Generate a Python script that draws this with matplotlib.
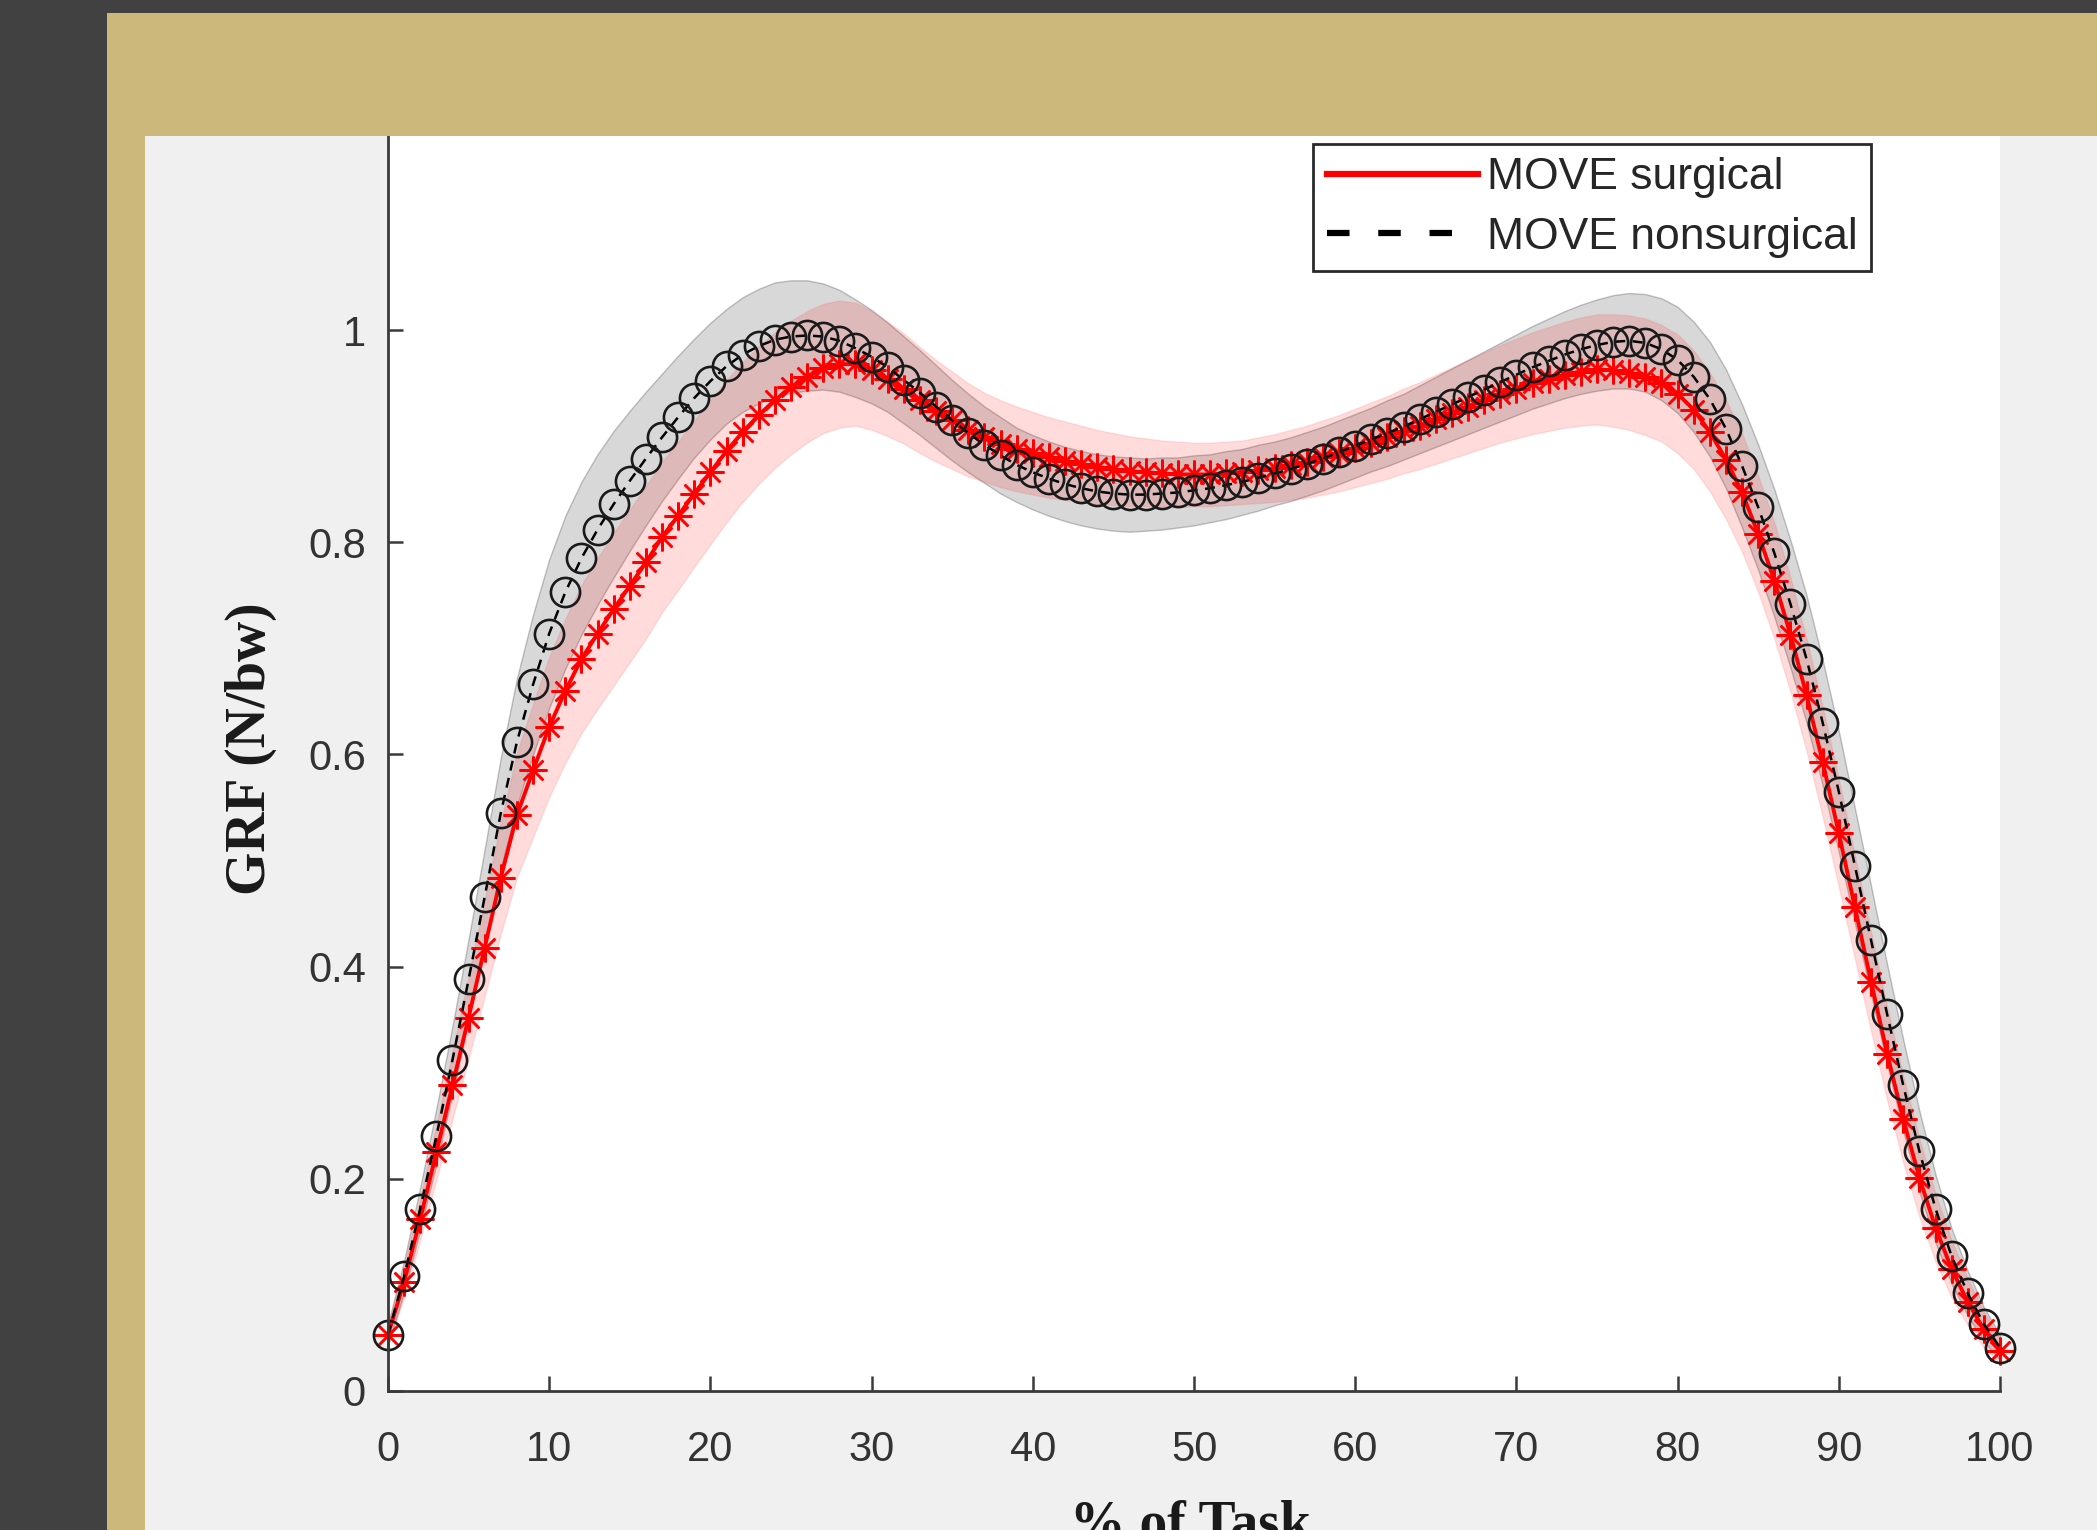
import matplotlib
matplotlib.use("Agg")
import matplotlib.pyplot as plt
from matplotlib.patches import Rectangle
from matplotlib.lines import Line2D
import numpy as np

# % of task, one sample per percent
pct = list(range(0, 101))

# MOVE nonsurgical: mean GRF and SD (N/bw)
nonsurg_mean = [
    0.053, 0.108, 0.172, 0.240, 0.312, 0.388, 0.466, 0.545, 0.612, 0.666, 0.714,
    0.753, 0.785, 0.812, 0.836, 0.858, 0.879, 0.899, 0.918, 0.936, 0.952,
    0.966, 0.977, 0.985, 0.991, 0.994, 0.995, 0.994, 0.990, 0.983, 0.975,
    0.965, 0.953, 0.941, 0.928, 0.915, 0.903, 0.892, 0.882, 0.873, 0.866,
    0.860, 0.855, 0.851, 0.848, 0.846, 0.845, 0.845, 0.846, 0.847, 0.849,
    0.851, 0.854, 0.857, 0.861, 0.865, 0.869, 0.874, 0.879, 0.885, 0.891,
    0.897, 0.903, 0.909, 0.916, 0.923, 0.930, 0.937, 0.944, 0.951, 0.958,
    0.965, 0.971, 0.977, 0.982, 0.986, 0.989, 0.990, 0.988, 0.982, 0.972,
    0.956, 0.935, 0.907, 0.872, 0.833, 0.790, 0.742, 0.690, 0.630, 0.565,
    0.495, 0.425, 0.355, 0.288, 0.226, 0.172, 0.127, 0.092, 0.063, 0.041,
]
nonsurg_sd = [
    0.010, 0.015, 0.020, 0.026, 0.032, 0.038, 0.045, 0.052, 0.060, 0.066, 0.070,
    0.072, 0.072, 0.071, 0.069, 0.066, 0.063, 0.060, 0.058, 0.056, 0.055,
    0.054, 0.054, 0.054, 0.054, 0.053, 0.052, 0.050, 0.048, 0.046, 0.044,
    0.042, 0.041, 0.040, 0.039, 0.038, 0.037, 0.036, 0.036, 0.035, 0.035,
    0.035, 0.035, 0.035, 0.035, 0.035, 0.035, 0.034, 0.034, 0.033, 0.033,
    0.032, 0.032, 0.031, 0.031, 0.030, 0.030, 0.030, 0.030, 0.030, 0.030,
    0.030, 0.031, 0.031, 0.032, 0.033, 0.034, 0.035, 0.036, 0.037, 0.038,
    0.039, 0.040, 0.041, 0.042, 0.043, 0.044, 0.045, 0.046, 0.048, 0.050,
    0.052, 0.054, 0.056, 0.058, 0.059, 0.060, 0.060, 0.060, 0.059, 0.057,
    0.054, 0.051, 0.047, 0.043, 0.038, 0.032, 0.026, 0.021, 0.016, 0.012,
]

# MOVE surgical: mean GRF and SD (N/bw)
surg_mean = [
    0.053, 0.103, 0.162, 0.225, 0.288, 0.352, 0.418, 0.484, 0.543, 0.585, 0.626,
    0.660, 0.690, 0.714, 0.737, 0.759, 0.781, 0.805, 0.825, 0.846, 0.866,
    0.886, 0.904, 0.920, 0.934, 0.946, 0.956, 0.964, 0.968, 0.968, 0.962,
    0.954, 0.945, 0.934, 0.924, 0.915, 0.906, 0.899, 0.893, 0.888, 0.884,
    0.880, 0.877, 0.874, 0.871, 0.869, 0.867, 0.866, 0.865, 0.864, 0.864,
    0.864, 0.865, 0.866, 0.868, 0.870, 0.873, 0.876, 0.880, 0.884, 0.889,
    0.894, 0.899, 0.905, 0.910, 0.916, 0.922, 0.928, 0.934, 0.940, 0.945,
    0.950, 0.954, 0.958, 0.961, 0.963, 0.962, 0.960, 0.956, 0.950, 0.940,
    0.925, 0.904, 0.878, 0.847, 0.808, 0.764, 0.713, 0.656, 0.593, 0.526,
    0.456, 0.386, 0.318, 0.256, 0.201, 0.154, 0.115, 0.084, 0.058, 0.038,
]
surg_sd = [
    0.010, 0.015, 0.020, 0.026, 0.032, 0.039, 0.046, 0.053, 0.059, 0.063, 0.066,
    0.068, 0.070, 0.071, 0.072, 0.072, 0.072, 0.071, 0.070, 0.069, 0.068,
    0.067, 0.066, 0.065, 0.064, 0.063, 0.062, 0.061, 0.060, 0.058, 0.056,
    0.054, 0.052, 0.050, 0.048, 0.046, 0.044, 0.042, 0.041, 0.040, 0.039,
    0.038, 0.037, 0.036, 0.035, 0.034, 0.033, 0.032, 0.031, 0.031, 0.030,
    0.030, 0.030, 0.030, 0.031, 0.032, 0.033, 0.034, 0.035, 0.036, 0.037,
    0.038, 0.039, 0.040, 0.041, 0.042, 0.043, 0.044, 0.045, 0.046, 0.047,
    0.048, 0.049, 0.050, 0.051, 0.052, 0.053, 0.054, 0.055, 0.055, 0.056,
    0.056, 0.056, 0.056, 0.056, 0.055, 0.055, 0.054, 0.053, 0.052, 0.051,
    0.049, 0.047, 0.044, 0.041, 0.037, 0.032, 0.027, 0.022, 0.017, 0.012,
]

x_ticks = [0, 10, 20, 30, 40, 50, 60, 70, 80, 90, 100]
y_ticks = [0, 0.2, 0.4, 0.6, 0.8, 1.0, 1.2]
y_ticklabels = ["0", "0.2", "0.4", "0.6", "0.8", "1", "1.2"]
legend_labels = ["MOVE surgical", "MOVE nonsurgical"]

W, H = 2097, 1530
DARK = "#414141"
TAN = "#cdb87c"
PANEL = "#f0f0f0"

fig = plt.figure(figsize=(W / 100, H / 100), dpi=100)
fig.patch.set_facecolor(DARK)

def fig_rect(x0, y0, x1, y1, color, z):
    # pixel box (top-left origin) -> figure fraction rectangle
    r = Rectangle((x0 / W, 1 - y1 / H), (x1 - x0) / W, (y1 - y0) / H,
                  transform=fig.transFigure, facecolor=color,
                  edgecolor="none", zorder=z)
    fig.add_artist(r)

fig_rect(107, 13, W, H, TAN, -2)      # slide frame
fig_rect(145, 136, W, H, PANEL, -1)   # matlab figure background

ax_l, ax_r, ax_b, ax_t = 388, 2000, 1391, 118
ax = fig.add_axes([ax_l / W, 1 - ax_b / H, (ax_r - ax_l) / W, (ax_b - ax_t) / H])
ax.set_facecolor("white")

x = np.array(pct)
ns = np.array(nonsurg_mean)
ns_sd = np.array(nonsurg_sd)
sg = np.array(surg_mean)
sg_sd = np.array(surg_sd)

# SD bands
ax.fill_between(x, ns - ns_sd, ns + ns_sd, facecolor=(0.5, 0.5, 0.5), alpha=0.3,
                edgecolor=(0.25, 0.25, 0.25), linewidth=1.0, zorder=1)
ax.fill_between(x, sg - sg_sd, sg + sg_sd, facecolor=(1.0, 0.0, 0.0), alpha=0.14,
                edgecolor=(1.0, 0.3, 0.3), linewidth=1.0, zorder=2)

# means
ax.plot(x, sg, color="red", linestyle="-", linewidth=2.8,
        marker=(8, 2, 0), markersize=20, markeredgewidth=1.8,
        markeredgecolor="red", zorder=3, clip_on=False)
ax.plot(x, ns, color="black", linestyle=(0, (4, 3)), linewidth=1.8,
        marker="o", markersize=21, markerfacecolor="none",
        markeredgecolor=(0.1, 0.1, 0.1), markeredgewidth=1.9, zorder=4,
        clip_on=False)

ax.set_xlim(0, 100)
ax.set_ylim(0, 1.2)
ax.set_xticks(x_ticks)
ax.set_yticks(y_ticks)
ax.set_yticklabels(y_ticklabels)

for s in ["top", "right"]:
    ax.spines[s].set_visible(False)
for s in ["left", "bottom"]:
    ax.spines[s].set_color("#3a3a3a")
    ax.spines[s].set_linewidth(2.0)
    ax.spines[s].set_zorder(5)

ax.tick_params(axis="both", direction="in", length=11, width=1.8,
               colors="#3a3a3a", labelcolor="#333333")
ax.tick_params(axis="x", pad=28)
ax.tick_params(axis="y", pad=16)
for lab in ax.get_xticklabels() + ax.get_yticklabels():
    lab.set_fontfamily("Liberation Sans")
    lab.set_fontsize(30)

handles = [
    Line2D([0], [0], color="red", linewidth=4.5, linestyle="-"),
    Line2D([0], [0], color="black", linewidth=4.5, linestyle=(0, (3.6, 4.6))),
]
leg = ax.legend(handles, legend_labels, loc="upper left",
                bbox_to_anchor=(0.574, 0.9796), borderaxespad=0,
                prop={"family": "Liberation Sans", "size": 32},
                handlelength=3.4, handletextpad=0.2, labelspacing=0.42,
                borderpad=0.3, fancybox=False, framealpha=1)
leg.get_frame().set_edgecolor("#2a2a2a")
leg.get_frame().set_linewidth(2.0)
leg.set_zorder(10)
for t in leg.get_texts():
    t.set_color("#262626")

# axis titles (serif bold, as in the original figure)
fig.text(251 / W, 1 - 749 / H, "GRF (N/bw)", rotation=90, ha="center", va="center",
         family="Liberation Serif", fontweight="bold", fontsize=40, color="#1a1a1a")
fig.text(1190 / W, 1 - 1500 / H, "% of Task", ha="center", va="top",
         family="Liberation Serif", fontweight="bold", fontsize=40, color="#1a1a1a")

# tan header strip overlapping the top of the axes
fig_rect(107, 13, W, 136, TAN, 10)

fig.savefig("out.png", dpi=100, facecolor=fig.get_facecolor())
